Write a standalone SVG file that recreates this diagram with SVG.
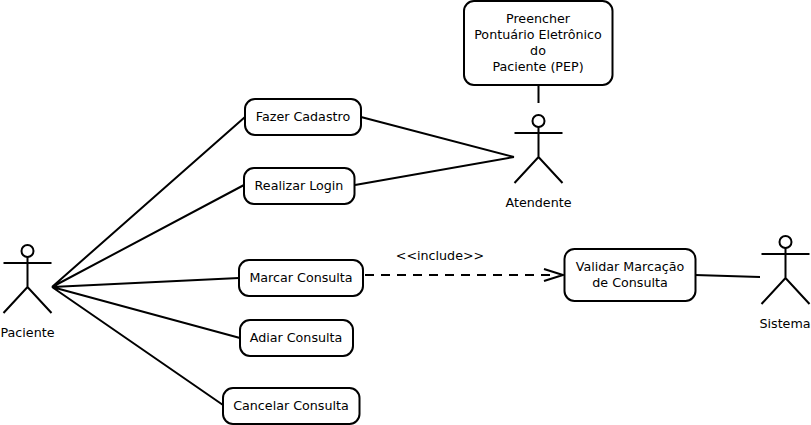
<svg xmlns="http://www.w3.org/2000/svg" width="811" height="425" viewBox="0 0 811 425">
<style>
.n{fill:#fff;stroke:#000;stroke-width:2}
.a{fill:none;stroke:#000;stroke-width:2}
.c{fill:none;stroke:#000;stroke-width:2}
text{font-family:"DejaVu Sans",sans-serif;font-size:12.7px;fill:#000;text-anchor:middle}
</style>
<defs>
<g id="actor"><circle cx="0" cy="-36" r="6" class="a"/><path class="a" d="M-24 -24H24M0 -30V0M-24 26L0 0L24 26"/></g>
</defs>
<rect width="811" height="425" fill="#fff"/>
<g id="connectors">
<path class="c" d="M52 287L245 117M52 287L244 185M52 287L239 278M52 287L240 338M52 287L223 405"/>
<path class="c" d="M361 117L514 157M355 185L514 157M538.5 85V103M695 275L760 277"/>
<path class="c" d="M365 275H556" stroke-dasharray="9 7"/>
<path class="c" d="M544 269L563 275L544 281"/>
</g>
<g id="paciente"><use href="#actor" x="27.5" y="287"/><text x="27.5" y="337">Paciente</text></g>
<g id="atendente"><use href="#actor" x="538.5" y="157"/><text x="538.5" y="207">Atendente</text></g>
<g id="sistema"><use href="#actor" x="785.5" y="278"/><text x="785" y="328">Sistema</text></g>
<g id="pep"><rect class="n" x="464" y="1" width="148.500" height="84" rx="10"/><text x="538" y="23">Preencher</text><text x="538" y="39">Pontuário Eletrônico</text><text x="538" y="55">do</text><text x="538" y="71">Paciente (PEP)</text></g>
<g id="cadastro"><rect class="n" x="245" y="99" width="116" height="36" rx="10"/><text x="303" y="121">Fazer Cadastro</text></g>
<g id="login"><rect class="n" x="244" y="168" width="110.500" height="36" rx="10"/><text x="299" y="190">Realizar Login</text></g>
<g id="marcar"><rect class="n" x="239" y="260" width="124" height="36" rx="10"/><text x="301" y="282">Marcar Consulta</text></g>
<g id="adiar"><rect class="n" x="240" y="320" width="113" height="36" rx="10"/><text x="296" y="342">Adiar Consulta</text></g>
<g id="cancelar"><rect class="n" x="223" y="388" width="136.500" height="36" rx="10"/><text x="291" y="410">Cancelar Consulta</text></g>
<g id="validar"><rect class="n" x="564.500" y="249" width="131" height="52" rx="10"/><text x="630" y="271">Validar Marcação</text><text x="630" y="287">de Consulta</text></g>
<text x="440" y="260">&lt;&lt;include&gt;&gt;</text>
</svg>
